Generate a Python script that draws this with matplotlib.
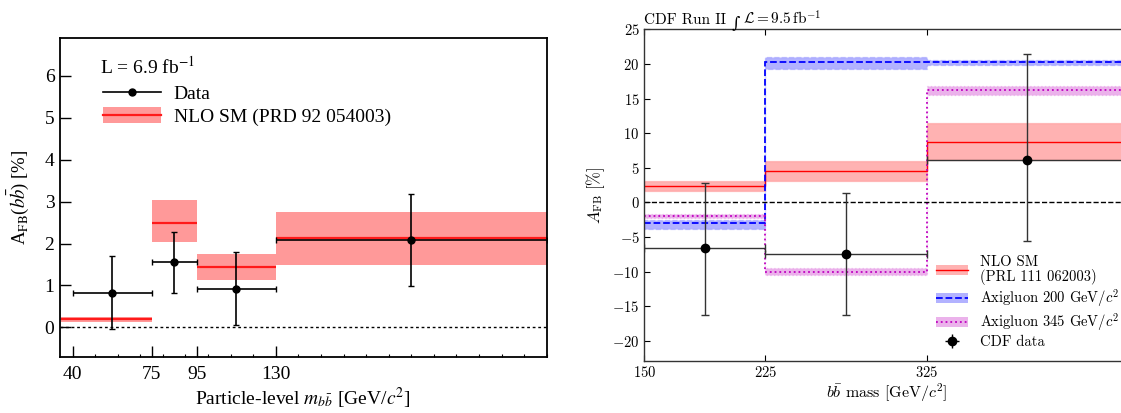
import numpy as np
import matplotlib
matplotlib.use("Agg")
import matplotlib.pyplot as plt
from matplotlib.patches import Patch
from matplotlib.lines import Line2D
from matplotlib.ticker import FuncFormatter

plt.rcParams['mathtext.fontset'] = 'cm'

# ---- left: particle-level A_FB(bb) in m_bb bins (L = 6.9 fb^-1) ----
left_edges = [35, 75, 95, 130, 250]
left_x = [57.5, 85, 112.5, 190]
left_xlo = [40, 75, 95, 130]
left_xhi = [75, 95, 130, 250]
left_y = [0.83, 1.55, 0.92, 2.08]
left_err_up = [0.88, 0.72, 0.88, 1.10]
left_err_dn = [0.88, 0.73, 0.87, 1.10]
left_nlo = [0.19, 2.50, 1.44, 2.14]
left_nlo_lo = [0.12, 2.03, 1.14, 1.50]
left_nlo_hi = [0.25, 3.04, 1.76, 2.76]
left_xticks = [40, 75, 95, 130]

# ---- right: CDF bb mass bins vs NLO SM and axigluon models ----
right_edges = [150, 225, 325, 450]
cdf_x = [187.5, 275, 387.5]
cdf_y = [-6.6, -7.5, 6.1]
cdf_err_up = [9.35, 8.8, 15.3]
cdf_err_dn = [9.7, 8.8, 11.6]
nlo_c = [2.35, 4.52, 8.66]
nlo_lo = [1.63, 3.07, 6.06]
nlo_hi = [3.07, 6.00, 11.44]
axi200_c = [-2.9, 20.35, 20.25]
axi200_lo = [-3.85, 19.2, 19.8]
axi200_hi = [-2.5, 21.0, 20.6]
axi345_c = [-1.9, -10.0, 16.3]
axi345_lo = [-2.2, -10.5, 15.5]
axi345_hi = [-1.6, -9.4, 16.8]
right_xticks = [150, 225, 325]
right_yticks = [-20, -15, -10, -5, 0, 5, 10, 15, 20, 25]

fig = plt.figure(figsize=(11.21, 4.13), dpi=100)

serif = 'Liberation Serif'
ax1 = fig.add_axes([0.0535, 0.1363, 0.4342, 0.771])

# NLO SM boxes, one per bin
ax1.stairs(left_nlo_hi, left_edges, baseline=left_nlo_lo, fill=True,
           facecolor='#ff9999', edgecolor='none', lw=0)
ax1.hlines(left_nlo, left_edges[:-1], left_edges[1:], color='#ff1a1a', lw=1.6)

xl = np.array(left_x)
ax1.errorbar(left_x, left_y,
             xerr=[xl - np.array(left_xlo), np.array(left_xhi) - xl],
             yerr=[left_err_dn, left_err_up],
             fmt='o', color='black', ms=5, elinewidth=1.2, capsize=2, capthick=1)
ax1.axhline(0, color='black', lw=1, ls=(0, (2, 2)))

ax1.set_xlim(34.4, 250)
ax1.set_ylim(-0.7, 6.9)
ax1.set_xticks(left_xticks, labels=[str(t) for t in left_xticks],
               fontfamily=serif, fontsize=14)
ax1.set_xticks([t for t in range(40, 251, 10) if t not in left_xticks], minor=True)
ax1.set_yticks(range(7), labels=[str(t) for t in range(7)],
               fontfamily=serif, fontsize=14)
ax1.tick_params(which='major', direction='in', length=8, width=1)
ax1.tick_params(axis='x', which='major', pad=7)
ax1.tick_params(axis='y', which='major', pad=4)
ax1.tick_params(which='minor', direction='in', length=2, width=0.8)
for sp in ax1.spines.values():
    sp.set_linewidth(1.3)

ax1.set_xlabel(r'Particle-level $m_{b\bar{b}}$ [GeV/$c^{2}$]', fontfamily=serif,
               fontsize=14, math_fontfamily='stix', labelpad=2)
ax1.set_ylabel(r'A$_{\mathrm{FB}}$($b\bar{b}$) [%]', fontfamily=serif,
               fontsize=13.5, math_fontfamily='stix', labelpad=10)

ax1.text(0.083, 0.912, r'L = 6.9 fb$^{-1}$', transform=ax1.transAxes,
         fontfamily=serif, fontsize=14, math_fontfamily='stix', va='center')
h_data = Line2D([], [], color='black', marker='o', ms=5, lw=1.2)
h_nlo = (Patch(facecolor='#ff9999', edgecolor='none'),
         Line2D([], [], color='#ff1a1a', lw=1.6))
ax1.legend([h_data, h_nlo], ['Data', 'NLO SM (PRD 92 054003)'],
           loc='upper left', bbox_to_anchor=(0.088, 0.855), frameon=False,
           prop={'family': serif, 'size': 14}, handlelength=3.0,
           handleheight=0.9, handletextpad=0.65, labelspacing=0.2,
           borderpad=0, borderaxespad=0)

# ---- right panel ----
ax2 = fig.add_axes([0.5748, 0.1259, 0.4315, 0.8031])
cm = 'cmr10'

bands = [
    (nlo_lo, nlo_hi, nlo_c, 'red', '-', 1.0),
    (axi200_lo, axi200_hi, axi200_c, 'blue', '--', 1.3),
    (axi345_lo, axi345_hi, axi345_c, 'm', ':', 1.3),
]
for lo, hi, c, col, ls, lw in bands:
    ax2.stairs(hi, right_edges, baseline=lo, fill=True,
               facecolor=matplotlib.colors.to_rgba(col, 0.3),
               edgecolor=matplotlib.colors.to_rgba(col, 0.15), lw=1, ls=ls)
    ax2.stairs(c, right_edges, baseline=None, color=col, ls=ls, lw=lw)

ax2.axhline(0, color='black', lw=1, ls='--')
ax2.errorbar(cdf_x, cdf_y, xerr=np.diff(right_edges) / 2,
             yerr=[cdf_err_dn, cdf_err_up], fmt='o', color='black',
             ecolor='#333333', ms=6, elinewidth=1, capsize=3, capthick=1)

ax2.set_xlim(150, 450)
ax2.set_ylim(-22.9, 25)
ax2.set_xticks(right_xticks)
ax2.set_yticks(right_yticks)
fmt = FuncFormatter(lambda v, p: r'$%d$' % v)
ax2.xaxis.set_major_formatter(fmt)
ax2.yaxis.set_major_formatter(fmt)
ax2.tick_params(direction='in', length=4, width=0.8, top=True, right=True,
                labelsize=10.5)
ax2.tick_params(axis='x', pad=3)
for sp in ax2.spines.values():
    sp.set_linewidth(1)
    sp.set_color('#333333')

ax2.set_xlabel(r'$b\bar{b}$ mass [GeV/$c^2$]', fontfamily=cm, fontsize=11.5,
               labelpad=1)
ax2.set_ylabel(r'$A_{\mathrm{FB}}\ [\%]$', fontsize=12, labelpad=4)

# header: pieces chained left to right so the integral sign can use another font
t1 = ax2.text(0, 1.015, 'CDF Run II ', transform=ax2.transAxes,
              fontfamily=cm, fontsize=11, va='baseline')
ax2.annotate('\u222b', xy=(1, 0), xycoords=t1, xytext=(0, -3),
             textcoords='offset points', fontfamily='DejaVu Serif',
             fontsize=11.5, va='bottom', ha='left')
ax2.annotate(r'$\mathcal{L} = 9.5\,\mathrm{fb}^{-1}$', xy=(1, 0), xycoords=t1,
             xytext=(8.5, 0), textcoords='offset points', fontsize=11,
             va='bottom', ha='left')

legend_handles = []
for lo, hi, c, col, ls, lw in bands:
    legend_handles.append((Patch(facecolor=matplotlib.colors.to_rgba(col, 0.3),
                                 edgecolor='none'),
                           Line2D([], [], color=col, ls=ls, lw=lw)))
cdf_handle = ax2.errorbar([], [], xerr=[], yerr=[], fmt='o', color='black',
                          ms=6, elinewidth=1, capsize=3)
legend_handles.append(cdf_handle)
leg = fig.legend(legend_handles,
                 ['NLO SM\n(PRL 111 062003)', r'Axigluon 200 GeV/$c^2$',
                  r'Axigluon 345 GeV/$c^2$', 'CDF data'],
                 loc='lower left', bbox_to_anchor=(936 / 1121, (413 - 349) / 413),
                 frameon=False, prop={'family': cm, 'size': 10.5},
                 handlelength=2.2, handleheight=0.7, handletextpad=0.85,
                 labelspacing=0.15, borderpad=0, borderaxespad=0)
for t in leg.get_texts():
    t.set_linespacing(1.0)

fig.savefig('out.png', dpi=100)
